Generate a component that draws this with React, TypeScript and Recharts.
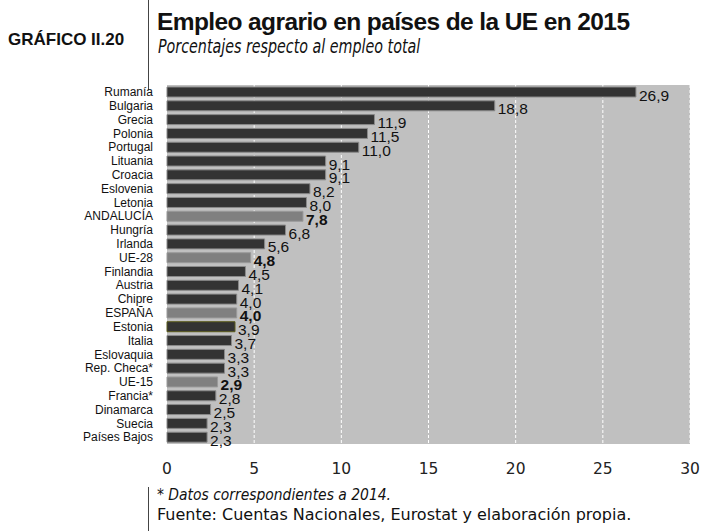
import React from "react";
import { BarChart, Bar, XAxis, YAxis, CartesianGrid, Cell, LabelList } from "recharts";

const countries = [
  "Rumanía", "Bulgaria", "Grecia", "Polonia", "Portugal", "Lituania", "Croacia",
  "Eslovenia", "Letonia", "ANDALUCÍA", "Hungría", "Irlanda", "UE-28", "Finlandia",
  "Austria", "Chipre", "ESPAÑA", "Estonia", "Italia", "Eslovaquia", "Rep. Checa*",
  "UE-15", "Francia*", "Dinamarca", "Suecia", "Países Bajos",
];
const values = [
  26.9, 18.8, 11.9, 11.5, 11.0, 9.1, 9.1, 8.2, 8.0, 7.8, 6.8, 5.6, 4.8, 4.5,
  4.1, 4.0, 4.0, 3.9, 3.7, 3.3, 3.3, 2.9, 2.8, 2.5, 2.3, 2.3,
];
const highlighted = ["ANDALUCÍA", "UE-28", "ESPAÑA", "UE-15"];
const xTicks = [0, 5, 10, 15, 20, 25, 30];

const data = countries.map((name, i) => ({ name, value: values[i] }));

const fmt = (v: number) => v.toFixed(1).replace(".", ",");

function ValueLabel(props: any) {
  const { x, y, width, height, value, index } = props;
  const bold = highlighted.includes(countries[index]);
  return (
    <text
      x={x + width + 3}
      y={y + height / 2 + 3}
      dominantBaseline="central"
      fontFamily="Liberation Sans, Arial, sans-serif"
      fontSize={15.5}
      fontWeight={bold ? "bold" : "normal"}
      fill="#111"
    >
      {fmt(value)}
    </text>
  );
}

export default function App() {
  return (
    <div style={{ position: "absolute", left: 0, top: 0, width: 706, height: 531, background: "#fff" }}>
      <div style={{ position: "absolute", left: 148, top: 0, width: 1, height: 90, background: "#444" }} />
      <div style={{ position: "absolute", left: 148, top: 487, width: 1, height: 44, background: "#444" }} />
      <div style={{ position: "absolute", left: 8, top: 30, fontFamily: "Liberation Sans, Arial, sans-serif", fontWeight: "bold", fontSize: 17, color: "#111", whiteSpace: "nowrap" }}>
        GRÁFICO II.20
      </div>
      <div style={{ position: "absolute", left: 157, top: 8, fontFamily: "Liberation Sans, Arial, sans-serif", fontWeight: "bold", fontSize: 24.5, letterSpacing: -0.6, color: "#111", whiteSpace: "nowrap" }}>
        Empleo agrario en países de la UE en 2015
      </div>
      <div style={{ position: "absolute", left: 158, top: 35, fontFamily: "DejaVu Sans Condensed, sans-serif", fontStyle: "italic", fontSize: 19, color: "#111", whiteSpace: "nowrap", transform: "scaleX(0.835)", transformOrigin: "left top" }}>
        Porcentajes respecto al empleo total
      </div>
      <div style={{ position: "absolute", left: 0, top: 0 }}>
        <BarChart
          width={706}
          height={531}
          data={data}
          layout="vertical"
          margin={{ top: 85, right: 16, bottom: 0, left: 0 }}
          barSize={10}
        >
          <CartesianGrid
            fill="#c0c0c0"
            horizontal={false}
            stroke="#ffffff"
            strokeDasharray="3 2"
            verticalValues={[5, 10, 15, 20, 25, 30]}
          />
          <XAxis
            type="number"
            domain={[0, 30]}
            ticks={xTicks}
            axisLine={false}
            tickLine={false}
            tickMargin={13}
            height={87}
            tick={{ fontFamily: "DejaVu Sans, Verdana, sans-serif", fontSize: 15.5, fill: "#222" }}
          />
          <YAxis
            type="category"
            dataKey="name"
            width={167}
            axisLine={false}
            tickLine={false}
            tickMargin={8}
            interval={0}
            tick={{ fontFamily: "Liberation Sans, Arial, sans-serif", fontSize: 12, fill: "#111" }}
          />
          <Bar dataKey="value" isAnimationActive={false} strokeWidth={1}>
            {data.map((d) => (
              <Cell
                key={d.name}
                fill={highlighted.includes(d.name) ? "#808080" : "#333333"}
                stroke={d.name === "Estonia" ? "#5c5c1c" : highlighted.includes(d.name) ? "#9a9a9a" : "#8a8a8a"}
              />
            ))}
            <LabelList dataKey="value" content={<ValueLabel />} />
          </Bar>
        </BarChart>
      </div>
      <div style={{ position: "absolute", left: 157, top: 485, fontFamily: "DejaVu Sans Condensed, sans-serif", fontStyle: "italic", fontSize: 16, color: "#111", whiteSpace: "nowrap", transform: "scaleX(0.965)", transformOrigin: "left top" }}>
        * Datos correspondientes a 2014.
      </div>
      <div style={{ position: "absolute", left: 157, top: 505, fontFamily: "DejaVu Sans, sans-serif", fontSize: 16, color: "#111", whiteSpace: "nowrap" }}>
        Fuente: Cuentas Nacionales, Eurostat y elaboración propia.
      </div>
    </div>
  );
}
